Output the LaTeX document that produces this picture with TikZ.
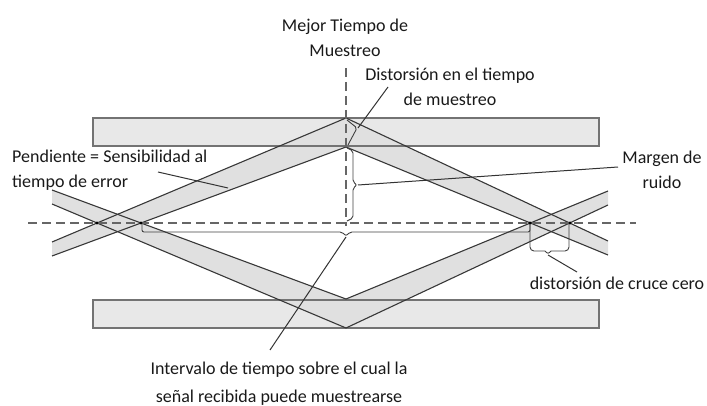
\documentclass[tikz,border=0pt]{standalone}
\usepackage{fontspec}
\setmainfont{Carlito}
\usepackage{tikz}
\usetikzlibrary{arrows}
\tikzstyle{trace} = [draw=black!78, line width=1.1pt]
\tikzstyle{barfill} = [fill=black!9]
\tikzstyle{barline} = [draw=black!55, line width=1.1pt]
\tikzstyle{band} = [fill=black!12]
\tikzstyle{guide} = [draw=black!60, line width=1.2pt, dash pattern=on 9pt off 5pt]
\tikzstyle{bracket} = [draw=black!75, line width=0.9pt, rounded corners=2pt]
\tikzstyle{leader} = [draw=black!80, line width=1pt]
\tikzstyle{lbl} = [font=\fontsize{18}{25}\selectfont, text=black!90, inner sep=0pt, align=center]
\tikzstyle{crossdot} = [circle, fill=black, inner sep=1.1pt]

\begin{document}
\begin{tikzpicture}[x=1pt,y=-1pt]
\useasboundingbox (0,0) rectangle (707,406);
\coordinate (apexout) at (346,118);
\coordinate (apexin) at (346,147);
\coordinate (botin) at (346,299);
\coordinate (botout) at (346,328);
\coordinate (la) at (52,242);
\coordinate (lb) at (52,256);
\coordinate (ld) at (52,190);
\coordinate (lc) at (52,204);
\coordinate (re) at (608,241);
\coordinate (rf) at (608,255);
\coordinate (rh) at (608,191);
\coordinate (rg) at (608,205);
\coordinate (hstart) at (28,223);
\coordinate (hend) at (636,223);
\coordinate (vstart) at (346,68);
\coordinate (vend) at (346,226);

\path [barfill] (93,118) rectangle (599,146);
\path [barfill] (93,300) rectangle (599,328);
\fill [band] (la) -- (apexout) -- (apexin) -- (lb) -- cycle;
\fill [band] (ld) -- (botin) -- (botout) -- (lc) -- cycle;
\fill [band] (apexout) -- (re) -- (rf) -- (apexin) -- cycle;
\fill [band] (botin) -- (rh) -- (rg) -- (botout) -- cycle;
\draw [barline] (93,118) rectangle (599,146);
\draw [barline] (93,300) rectangle (599,328);

\draw [trace] (la) -- (apexout) -- (re);
\draw [trace] (lb) -- (apexin) -- (rf);
\draw [trace] (ld) -- (botin) -- (rh);
\draw [trace] (lc) -- (botout) -- (rg);

\draw [guide] (hstart) -- (hend);
\draw [guide] (vstart) -- (vend);

\node (x1) [crossdot] at (97,223) {};
\node (x2) [crossdot] at (141,223) {};
\node (x3) [crossdot] at (530,223) {};
\node (x4) [crossdot] at (570,223) {};

\draw [bracket] (347,120) -- (357,128) -- (348,145);
\draw [bracket] (347,148) -- (353,151) -- (353,182) -- (357,185) -- (353,188) -- (353,218) -- (347,221);
\draw [bracket] (142,224) -- (142,232) -- (342,232) -- (346,236) -- (350,232) -- (530,232) -- (530,224);
\draw [bracket, rounded corners=4pt] (530,224) -- (530,251) -- (545,251);
\draw [bracket] (545,251) -- (548,254) -- (551,251);
\draw [bracket, rounded corners=4pt] (551,251) -- (569,251) -- (569,224);

\node (best) [lbl] at (345,38) {Mejor Tiempo de\\Muestreo};
\node (sdist) [lbl] at (450,87) {Distorsión en el tiempo\\de muestreo};
\node (slope) [lbl, align=left, anchor=west] at (12,170) {Pendiente = Sensibilidad al\\tiempo de error};
\node (noise) [lbl] at (662,170) {Margen de\\ruido};
\node (zdist) [lbl] at (617,283) {distorsión de cruce cero};
\node (interval) [lbl, font=\fontsize{18}{28}\selectfont] at (279,384) {Intervalo de tiempo sobre el cual la\\señal recibida puede muestrearse};

\coordinate (sdtip) at (358,128);
\coordinate (sdend) at (388,87);
\coordinate (nmtip) at (358,185);
\coordinate (nmend) at (618,167);
\coordinate (sltip) at (228,188);
\coordinate (slend) at (158,172);
\coordinate (ivtip) at (346,237);
\coordinate (ivend) at (270,350);
\coordinate (zctip) at (548,255);
\coordinate (zcend) at (577,272);
\draw [leader] (sdtip) -- (sdend);
\draw [leader] (nmtip) -- (nmend);
\draw [leader] (sltip) -- (slend);
\draw [leader] (ivtip) -- (ivend);
\draw [leader] (zctip) -- (zcend);
\end{tikzpicture}
\end{document}
